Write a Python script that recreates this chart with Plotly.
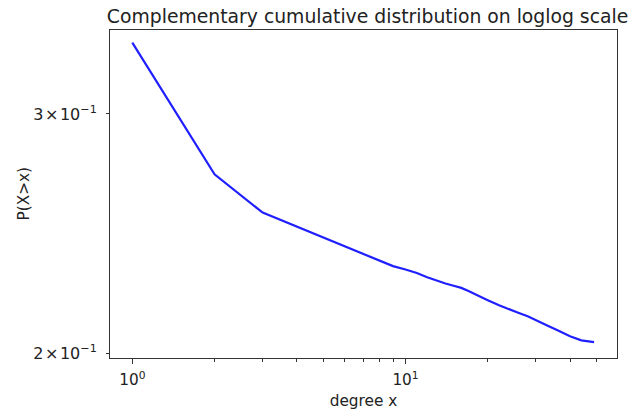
import plotly.graph_objects as go

# Data
degree = [1, 2, 3, 4, 5, 6, 7, 8, 9, 10, 11, 12, 13, 14, 15, 16, 17, 18, 19, 20,
          22, 24, 26, 28, 30, 33, 36, 40, 44, 47, 49]
ccdf = [0.3385, 0.2708, 0.2538, 0.2478, 0.2433, 0.2397, 0.2367, 0.2341, 0.2318, 0.2305,
        0.2291, 0.2275, 0.2261, 0.2251, 0.2242, 0.2234, 0.2222, 0.2209, 0.2198, 0.2188,
        0.2169, 0.2153, 0.2141, 0.2129, 0.2116, 0.2096, 0.2079, 0.2058, 0.2044, 0.2040, 0.2038]

x_tickvals = [1, 10]
x_ticktext = ["10<sup>0</sup>", "10<sup>1</sup>"]
x_minor = [2, 3, 4, 5, 6, 7, 8, 9, 20, 30, 40, 50]
y_tickvals = [0.2, 0.3]
y_ticktext = ["2\u200a×\u200a10<sup>−1</sup>", "3\u200a×\u200a10<sup>−1</sup>"]

title_text = "Complementary cumulative distribution on loglog scale"
x_label = "degree x"
y_label = "P(X>x)"

font_family = "DejaVu Sans"
text_color = "#222222"
axis_color = "#333333"

fig = go.Figure()
fig.add_trace(go.Scatter(
    x=degree, y=ccdf, mode="lines",
    line=dict(color="#1f1fff", width=2.2),
    showlegend=False,
))

fig.update_layout(
    width=630, height=414,
    margin=dict(l=110, r=13, t=30, b=56),
    paper_bgcolor="white", plot_bgcolor="white",
    font=dict(family=font_family, size=15.3, color=text_color),
    title=dict(text=title_text, x=0.508, xanchor="center", xref="paper",
               y=1, yref="paper", yanchor="bottom", pad=dict(b=7),
               font=dict(family=font_family, size=18.8, color=text_color)),
)

fig.add_annotation(
    text=y_label, xref="paper", yref="paper", x=-0.1706, y=0.5,
    xanchor="center", yanchor="middle", textangle=-90, showarrow=False,
    font=dict(family=font_family, size=15.3, color=text_color),
)

fig.update_xaxes(
    type="log",
    range=[-0.0816, 1.774],
    tickvals=x_tickvals, ticktext=x_ticktext,
    ticks="outside", ticklen=5, tickwidth=1, tickcolor=axis_color,
    ticklabelstandoff=3,
    minor=dict(tickvals=x_minor, ticks="outside", ticklen=3, tickwidth=1, tickcolor=axis_color),
    showgrid=False, zeroline=False,
    showline=True, linecolor=axis_color, linewidth=1, mirror=True,
    title=dict(text=x_label, font=dict(size=15.3, color=text_color), standoff=6),
    tickfont=dict(size=15.3, color=text_color),
    automargin=False,
)
fig.update_yaxes(
    type="log",
    range=[-0.7025, -0.4611],
    tickvals=y_tickvals, ticktext=y_ticktext,
    ticks="outside", ticklen=3, tickwidth=1, tickcolor=axis_color,
    ticklabelstandoff=6,
    showgrid=False, zeroline=False,
    showline=True, linecolor=axis_color, linewidth=1, mirror=True,
    tickfont=dict(size=16, color=text_color),
    automargin=False,
)

fig.write_html("out.html", config={"displayModeBar": False},
               post_script="document.body.style.margin='0';")
